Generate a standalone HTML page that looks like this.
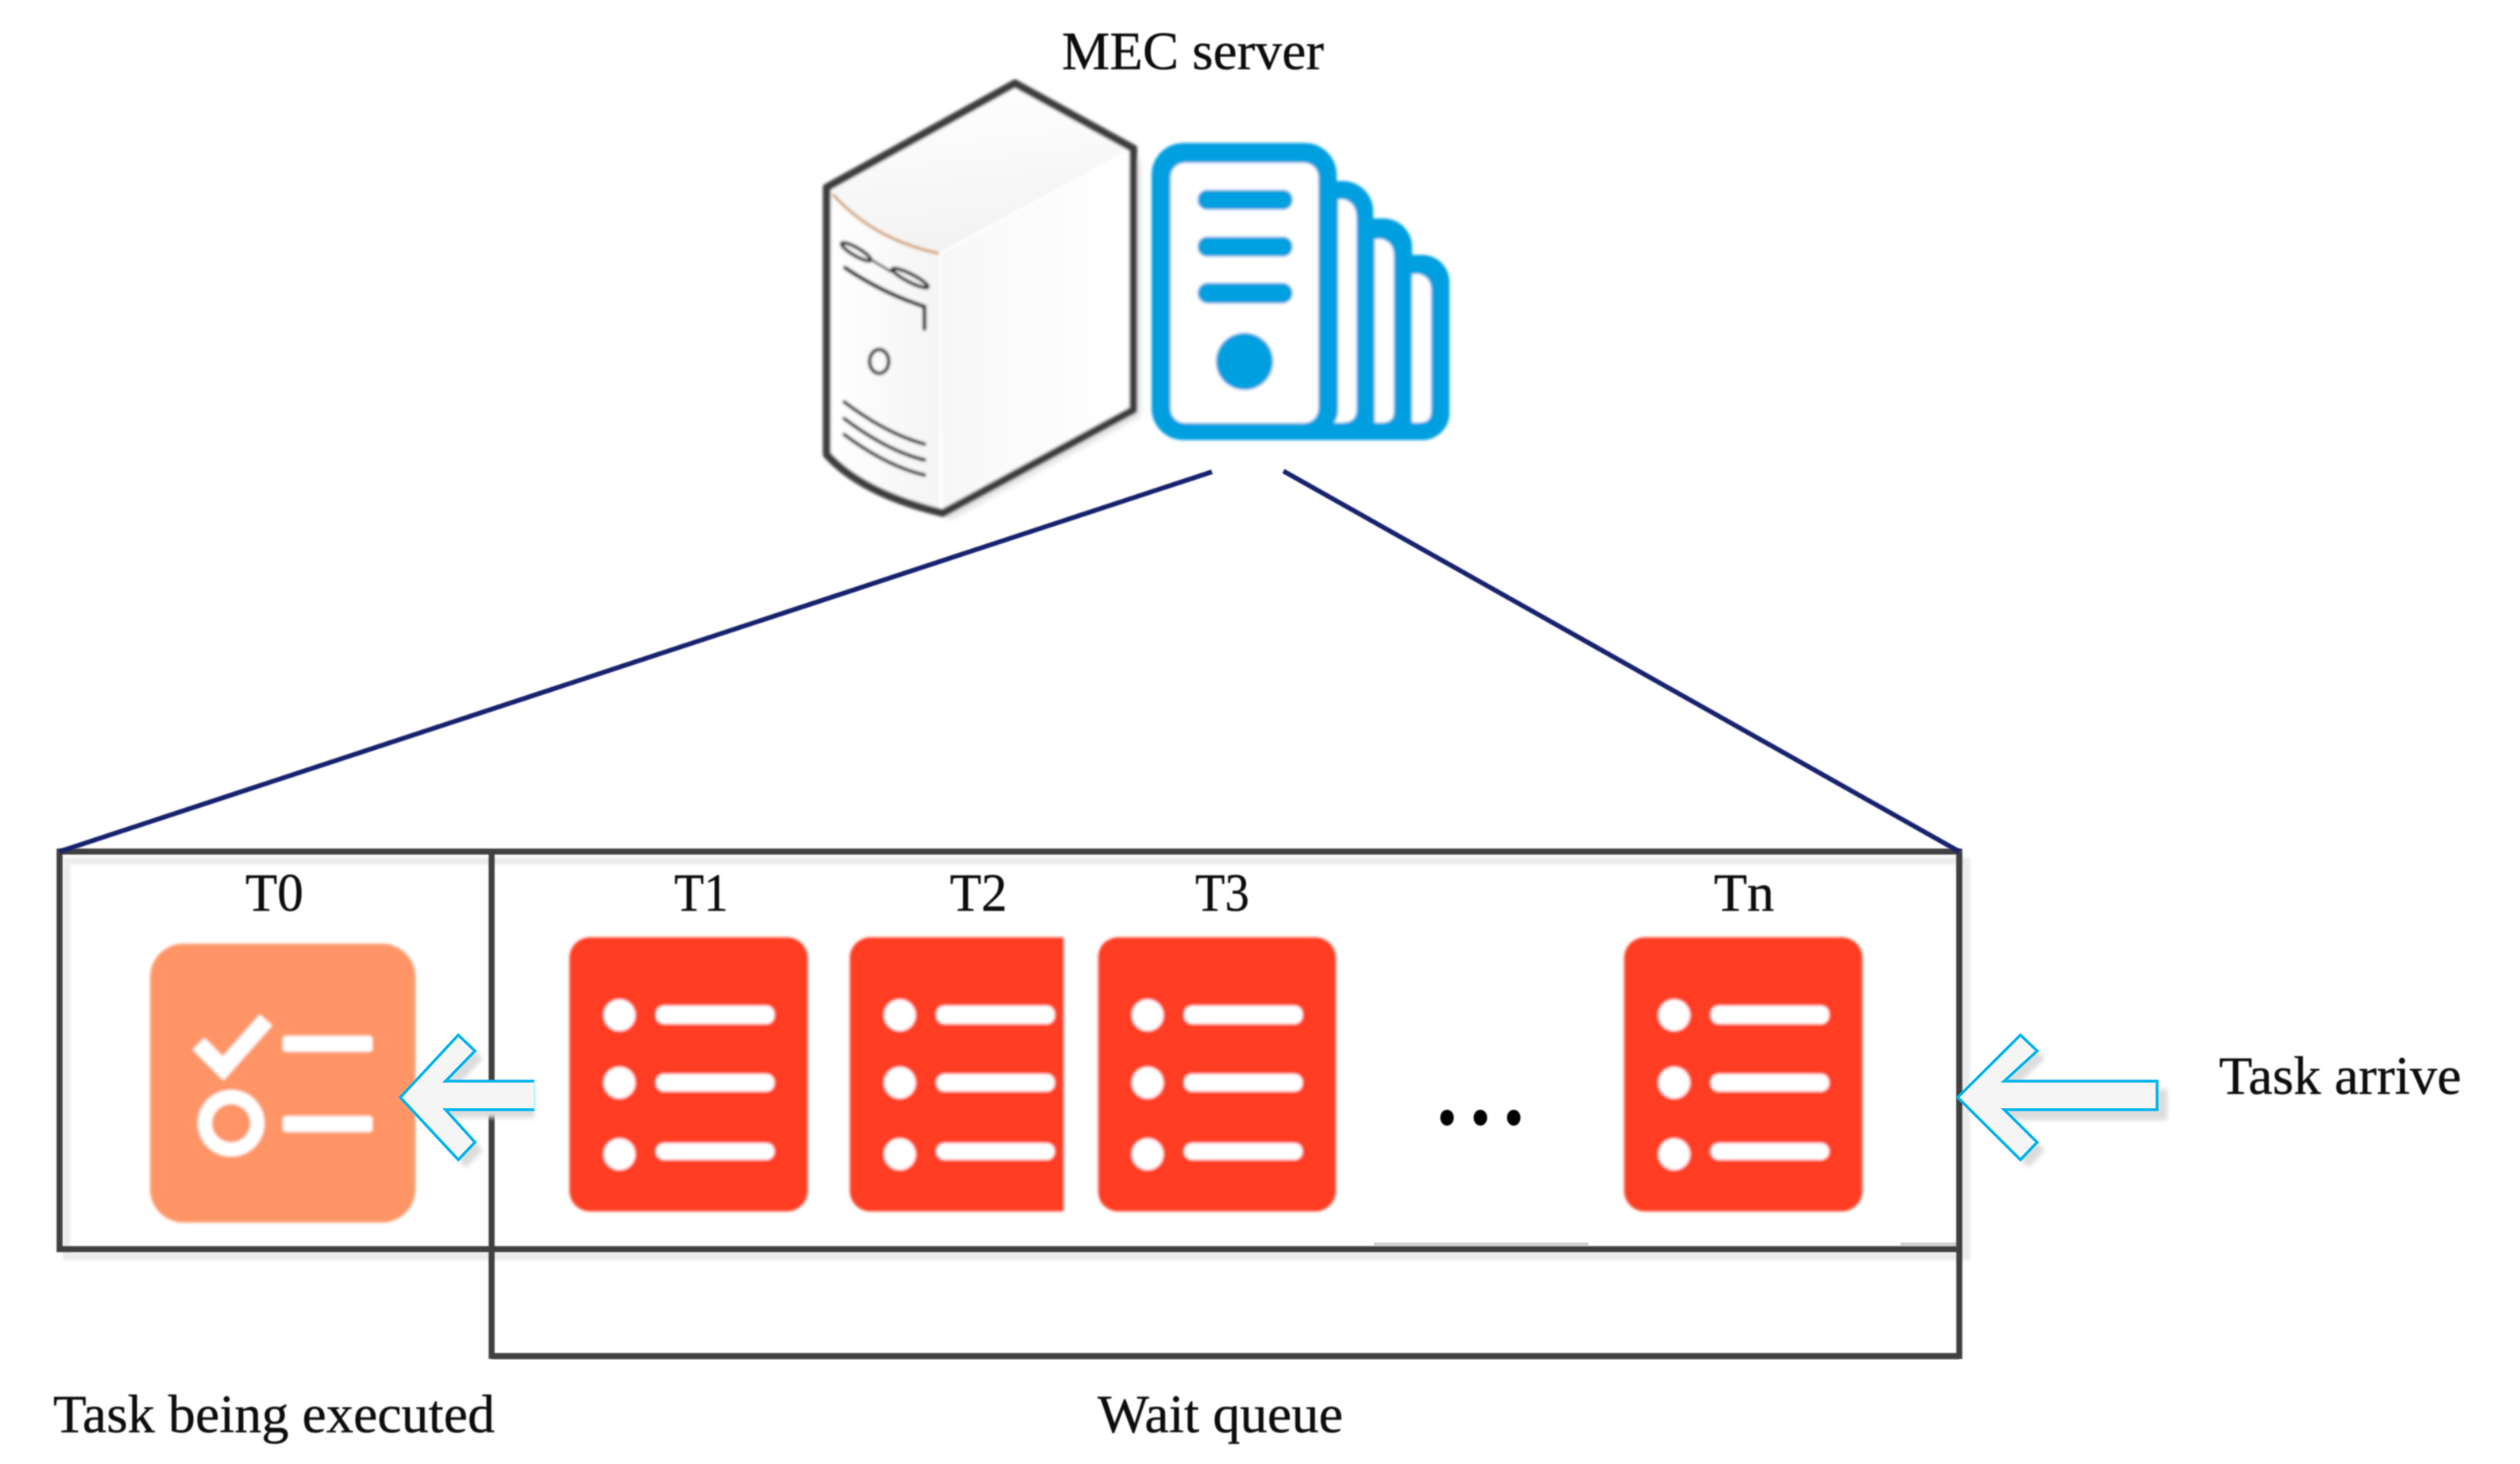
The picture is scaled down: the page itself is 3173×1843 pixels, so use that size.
<!DOCTYPE html>
<html>
<head>
<meta charset="utf-8">
<style>
html,body{margin:0;padding:0;background:#fff;width:3173px;height:1843px;overflow:hidden}
svg{display:block}
text{font-family:"Liberation Serif","Times New Roman",serif;fill:#111;stroke:#111;stroke-width:0.5px;font-size:68px}
</style>
</head>
<body>
<svg width="3173" height="1843" viewBox="0 0 3173 1843" xmlns="http://www.w3.org/2000/svg">
<defs>
<filter id="b" x="-5%" y="-5%" width="110%" height="110%"><feGaussianBlur stdDeviation="1.8"/></filter>
<filter id="t" x="-5%" y="-20%" width="110%" height="140%"><feGaussianBlur stdDeviation="0.9"/></filter>
<filter id="s" x="-10%" y="-10%" width="120%" height="120%"><feGaussianBlur stdDeviation="3"/></filter>
<linearGradient id="top" x1="0.3" y1="0" x2="0.5" y2="1"><stop offset="0" stop-color="#fff"/><stop offset="1" stop-color="#f2f2f2"/></linearGradient>
<linearGradient id="front" x1="0" y1="0" x2="1" y2="0"><stop offset="0" stop-color="#fff"/><stop offset="1" stop-color="#f4f4f4"/></linearGradient>
<linearGradient id="side" x1="0" y1="0" x2="1" y2="0"><stop offset="0" stop-color="#f7f7f7"/><stop offset="0.7" stop-color="#fdfdfd"/><stop offset="1" stop-color="#fff"/></linearGradient>
<g id="task">
<rect x="0" y="1" width="300" height="345" rx="26" fill="#FF3D24"/>
<circle cx="63" cy="99" r="20" fill="#fff"/>
<circle cx="63" cy="184" r="20" fill="#fff"/>
<circle cx="63" cy="274" r="20" fill="#fff"/>
<rect x="109" y="87" width="149" height="23" rx="10" fill="#fff"/>
<rect x="109" y="173" width="149" height="22" rx="10" fill="#fff"/>
<rect x="109" y="260" width="149" height="21" rx="10" fill="#fff"/>
</g>
</defs>

<!-- shadows of boxes -->
<g fill="none" stroke="#ececec" stroke-width="9" filter="url(#b)">
<rect x="84" y="1084" width="2392" height="498"/>
</g>
<line x1="619" y1="1066" x2="2467" y2="1066" stroke="#ccc" stroke-width="4" filter="url(#b)"/>
<line x1="75" y1="1066" x2="619" y2="1066" stroke="#ddd" stroke-width="4" filter="url(#b)"/>
<rect x="1730" y="1564" width="270" height="4" fill="#d2d2d2"/>
<rect x="2393" y="1564" width="71" height="4" fill="#d2d2d2"/>
<line x1="619" y1="1710" x2="2467" y2="1710" stroke="#aaa" stroke-width="3"/>

<!-- server -->
<g filter="url(#b)">
<path d="M1436 195 V524 L1197 654 L1160 640 Z" fill="#e2e2e2" filter="url(#s)"/>
<path d="M1278 105 L1427 187 V516 L1187 646 C1130 632 1075 610 1041 572 V236 Z" fill="#fff"/>
<path d="M1278 105 L1427 187 L1184 319 C1130 308 1075 280 1041 240 Z" fill="url(#top)"/>
<path d="M1044 245 C1080 285 1130 310 1184 319 V640 C1130 625 1080 600 1044 570 Z" fill="url(#front)"/>
<path d="M1184 319 L1424 189 V516 L1187 644 Z" fill="url(#side)"/>
<path d="M1184 319 L1424 189" stroke="#fff" stroke-width="3" fill="none"/>
<path d="M1184 319 V640" stroke="#fff" stroke-width="3" fill="none"/>
<path d="M1049 245 C1085 285 1130 308 1182 319" fill="none" stroke="#d09a60" stroke-width="3.500"/>
<path d="M1278 105 L1427 187 V516 L1187 646 C1130 632 1075 610 1041 572 V236 Z" fill="none" stroke="#3c3c3c" stroke-width="10" stroke-linejoin="round"/>
<g fill="none" stroke="#111" stroke-linecap="round">
<ellipse cx="1078" cy="317" rx="21" ry="5" transform="rotate(30 1078 317)" stroke-width="4.500"/>
<ellipse cx="1146" cy="350" rx="25" ry="5" transform="rotate(27 1146 350)" stroke-width="4.500"/>
<line x1="1097" y1="327" x2="1122" y2="342" stroke-width="3"/>
<path d="M1064 337 C1095 358 1130 375 1164 386 V414" stroke-width="5"/>
<ellipse cx="1107" cy="455" rx="12" ry="15" stroke-width="4.500"/>
<path d="M1063 506 C1095 530 1130 550 1164 559" stroke-width="4.500"/>
<path d="M1063 527 C1095 551 1130 571 1164 579" stroke-width="4.500"/>
<path d="M1063 547 C1095 571 1130 590 1164 598" stroke-width="4.500"/>
</g>
</g>

<!-- blue stacked icon -->
<g filter="url(#b)" fill="#009FE0">
<rect x="1690" y="321" width="135" height="233" rx="34"/>
<rect x="1640" y="275" width="138" height="279" rx="36"/>
<rect x="1600" y="228" width="129" height="326" rx="38"/>
<rect x="1450" y="180" width="233" height="374" rx="40"/>
<rect x="1474" y="205" width="186" height="327.500" rx="18" fill="#fff"/>
<path d="M1685 251 H1692 Q1708 255 1708 275 V515 Q1708 532 1690 532 H1680 Q1685 525 1685 515 Z" fill="#fff"/>
<path d="M1731 301 H1740 Q1755 305 1755 322 V518 Q1755 532 1740 532 H1731 Z" fill="#fff"/>
<path d="M1778 345 H1787 Q1802 349 1802 365 V518 Q1802 532 1787 532 H1778 Z" fill="#fff"/>
<rect x="1508" y="239" width="119.500" height="25" rx="12"/>
<rect x="1508" y="298" width="119.500" height="25" rx="12"/>
<rect x="1508" y="356" width="119.500" height="26" rx="13"/>
<circle cx="1567" cy="455" r="36"/>
</g>

<!-- tasks -->
<g filter="url(#b)">
<rect x="189" y="1188" width="334" height="351" rx="42" fill="#FF9566"/>
<path d="M250 1314 L281 1345 L335 1284" fill="none" stroke="#fff" stroke-width="21" stroke-linejoin="miter"/>
<rect x="356" y="1304" width="113" height="20" rx="4" fill="#fff"/>
<rect x="356" y="1405" width="113" height="20" rx="4" fill="#fff"/>
<circle cx="291" cy="1414" r="33" fill="none" stroke="#fff" stroke-width="18"/>
<use href="#task" x="717" y="1179"/>
<g><use href="#task" x="1070" y="1179"/></g>
<rect x="1340" y="1170" width="42" height="370" fill="#fff"/>
<use href="#task" x="1382" y="1179"/>
<use href="#task" x="2045" y="1179"/>
</g>

<!-- box lines -->
<g fill="none" stroke="#404040" stroke-width="7.500" filter="url(#t)">
<rect x="75" y="1072" width="2392" height="500.500"/>
<path d="M619 1072 V1707 H2467 V1072"/>
</g>
<!-- navy lines -->
<g stroke="#14246e" stroke-width="6" fill="none" filter="url(#t)">
<line x1="1526" y1="594" x2="75" y2="1072"/>
<line x1="1616" y1="593" x2="2467" y2="1072"/>
</g>

<!-- arrows -->
<path d="M514 1391 L587 1313 L608 1333 L571 1371 H673 V1407 H571 L608 1448 L587 1470 Z" fill="#dcdcdc" filter="url(#s)"/>
<path d="M504 1381.500 L577 1303 L598 1323 L561 1361 H673 V1397 H561 L598 1438 L577 1460 Z" fill="#f5f5f5"/>
<path d="M673 1361 H561 L598 1323 L577 1303 L504 1381.500 L577 1460 L598 1438 L561 1397 H673" fill="none" stroke="#00B4EE" stroke-width="3.500"/>
<path d="M673 1361 V1397" stroke="#bfeffc" stroke-width="2"/>

<path d="M2475 1391 L2554 1313 L2575 1333 L2533.500 1371 H2729 V1410 H2533.500 L2575 1448 L2554 1470 Z" fill="#dcdcdc" filter="url(#s)"/>
<path d="M2465 1381.500 L2544 1303 L2565 1323 L2523.500 1361 H2716 V1397 H2523.500 L2565 1438 L2544 1460 Z" fill="#f5f5f5" stroke="#00B4EE" stroke-width="3.500"/>

<!-- dots -->
<g fill="#000" filter="url(#t)">
<ellipse cx="1822" cy="1407" rx="8.500" ry="10"/>
<ellipse cx="1864" cy="1407" rx="8.500" ry="10"/>
<ellipse cx="1906" cy="1407" rx="8.500" ry="10"/>
</g>

<!-- labels -->
<g filter="url(#t)">
<text x="1337" y="87" textLength="330" lengthAdjust="spacingAndGlyphs">MEC server</text>
<text x="309" y="1146.500" textLength="73" lengthAdjust="spacingAndGlyphs">T0</text>
<text x="849" y="1146.500" textLength="68" lengthAdjust="spacingAndGlyphs">T1</text>
<text x="1196" y="1146.500" textLength="72" lengthAdjust="spacingAndGlyphs">T2</text>
<text x="1505" y="1146.500" textLength="68" lengthAdjust="spacingAndGlyphs">T3</text>
<text x="2158" y="1146.500" textLength="76" lengthAdjust="spacingAndGlyphs">Tn</text>
<text x="67" y="1803" textLength="556" lengthAdjust="spacingAndGlyphs">Task being executed</text>
<text x="1382" y="1803" textLength="309" lengthAdjust="spacingAndGlyphs">Wait queue</text>
<text x="2794" y="1377" textLength="305" lengthAdjust="spacingAndGlyphs">Task arrive</text>
</g>
</svg>
</body>
</html>
